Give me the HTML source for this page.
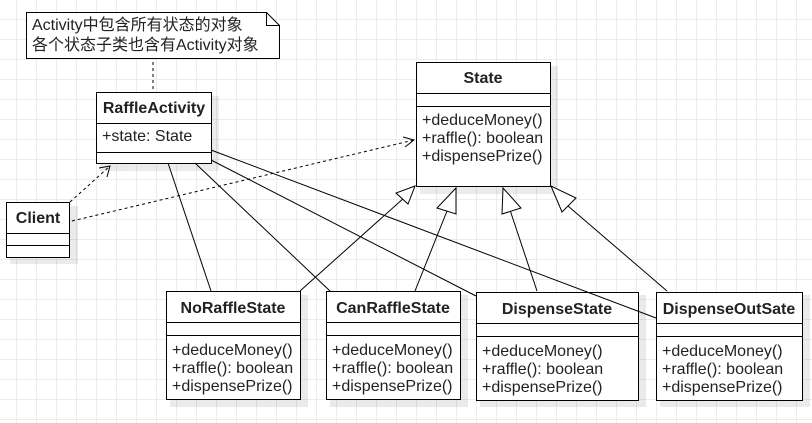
<!DOCTYPE html><html><head><meta charset="utf-8"><style>
body{margin:0;width:812px;height:423px;overflow:hidden;background:#fff;
background-image:linear-gradient(#ececec 1px,transparent 1px),linear-gradient(90deg,#ececec 1px,transparent 1px);background-size:20px 20px;background-position:-4px -1px}
text{font-family:"Liberation Sans","Noto Sans CJK SC",sans-serif;font-size:16px;fill:#222}
.n{font-size:16px}
.b{font-weight:bold;text-anchor:middle}
</style></head><body>
<svg width="812" height="423" style="position:absolute;left:0;top:0">
<g fill="#000" opacity="0.08">
<rect x="100" y="96" width="119" height="75"/><rect x="10" y="206" width="68" height="58"/>
<rect x="420" y="66" width="138" height="128"/><rect x="170" y="295" width="138" height="112"/>
<rect x="330" y="295" width="138" height="112"/><rect x="480" y="295" width="166" height="112"/><rect x="660" y="295" width="150" height="112"/>
</g>
<g stroke="#000" fill="#fff" stroke-width="1">
<path d="M26.5 12.5H266.5L279.5 25.5V58.5H26.5Z"/><path d="M266.5 12.5V25.5H279.5" fill="none"/>
</g>
<text class="n" x="32" y="30">Activity中包含所有状态的对象</text>
<text class="n" x="32" y="50">各个状态子类也含有Activity对象</text>
<g stroke="#000" fill="#fff">
<rect x="96.5" y="92.5" width="115" height="71"/><line x1="96" y1="123.5" x2="212" y2="123.5"/><line x1="96" y1="152.5" x2="212" y2="152.5"/>
<rect x="6.5" y="202.5" width="63" height="55"/><line x1="6" y1="233.5" x2="70" y2="233.5"/><line x1="6" y1="245.5" x2="70" y2="245.5"/>
<rect x="416.5" y="62.5" width="134" height="124"/><line x1="416" y1="93.5" x2="551" y2="93.5"/><line x1="416" y1="106.5" x2="551" y2="106.5"/>
<rect x="166.5" y="291.5" width="134" height="108"/><line x1="166" y1="322.5" x2="301" y2="322.5"/><line x1="166" y1="335.5" x2="301" y2="335.5"/>
<rect x="326.5" y="291.5" width="134" height="108"/><line x1="326" y1="322.5" x2="461" y2="322.5"/><line x1="326" y1="335.5" x2="461" y2="335.5"/>
<rect x="476.5" y="292.5" width="162" height="108"/><line x1="476" y1="323.5" x2="639" y2="323.5"/><line x1="476" y1="336.5" x2="639" y2="336.5"/>
<rect x="656.5" y="292.5" width="146" height="108"/><line x1="656" y1="323.5" x2="803" y2="323.5"/><line x1="656" y1="336.5" x2="803" y2="336.5"/>
</g>
<g stroke="#000" fill="none">
<line x1="153" y1="62" x2="153" y2="92" stroke-dasharray="3,3"/>
<line x1="168" y1="163" x2="211" y2="291"/>
<line x1="195" y1="163" x2="330" y2="291"/>
<line x1="211" y1="160" x2="476" y2="296"/>
<line x1="211" y1="150" x2="656" y2="318"/>
<line x1="70" y1="202" x2="110" y2="166" stroke-dasharray="3,3"/>
<path d="M99 168L110 166L107 177"/>
<line x1="72" y1="221" x2="414" y2="140" stroke-dasharray="3,3"/>
<path d="M403 137L414 140L405 147"/>
<line x1="300" y1="291" x2="405" y2="197"/>
<line x1="415" y1="291" x2="447" y2="211"/>
<line x1="537" y1="291" x2="510" y2="210"/>
<line x1="667" y1="291" x2="568" y2="206"/>
</g>
<g stroke="#000" fill="#fff">
<path d="M415 186L396 193L408 204Z"/>
<path d="M456 188L437 208L456 214Z"/>
<path d="M503 188L502 214L521 208Z"/>
<path d="M551 186L562 212L576 198Z"/>
</g>
<text class="b" x="154" y="113">RaffleActivity</text><text x="102" y="141">+state: State</text>
<text class="b" x="38" y="223">Client</text>
<text class="b" x="483" y="83">State</text>
<text x="422" y="125">+deduceMoney()</text><text x="422" y="143">+raffle(): boolean</text><text x="422" y="161">+dispensePrize()</text>
<text class="b" x="233" y="313">NoRaffleState</text>
<text x="172" y="355">+deduceMoney()</text><text x="172" y="373">+raffle(): boolean</text><text x="172" y="391">+dispensePrize()</text>
<text class="b" x="393" y="313">CanRaffleState</text>
<text x="332" y="355">+deduceMoney()</text><text x="332" y="373">+raffle(): boolean</text><text x="332" y="391">+dispensePrize()</text>
<text class="b" x="557" y="314">DispenseState</text>
<text x="482" y="356">+deduceMoney()</text><text x="482" y="374">+raffle(): boolean</text><text x="482" y="392">+dispensePrize()</text>
<text class="b" x="729" y="314">DispenseOutSate</text>
<text x="662" y="356">+deduceMoney()</text><text x="662" y="374">+raffle(): boolean</text><text x="662" y="392">+dispensePrize()</text>
</svg></body></html>
